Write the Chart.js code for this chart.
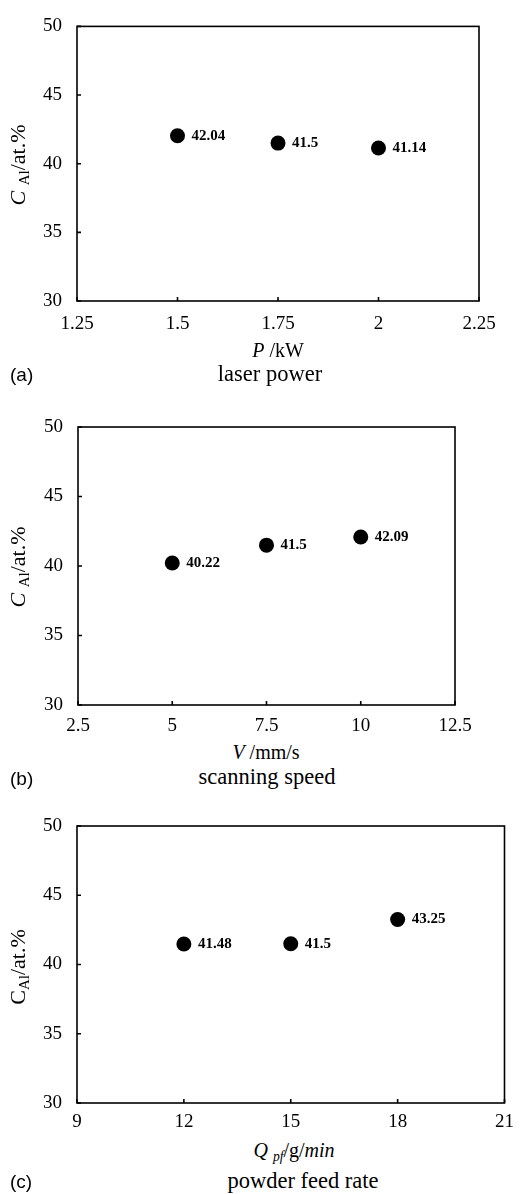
<!DOCTYPE html>
<html><head><meta charset="utf-8">
<script src="https://cdn.jsdelivr.net/npm/chart.js@4.4.1/dist/chart.umd.min.js"></script>
<style>
html,body{margin:0;padding:0;background:#fff;width:522px;height:1194px;overflow:hidden;}
.panel{position:absolute;left:0;width:522px;height:345px;}
canvas{position:absolute;left:0;top:0;}
.t{position:absolute;transform:translate(-50%,-50%);white-space:nowrap;color:#000;font-family:"Liberation Serif","Times New Roman",serif;line-height:1;}
.yt{transform:translate(-50%,-50%) rotate(-90deg);font-size:22px;}
.xt{font-size:20px;}
.cap{font-size:22.5px;}
.lab{position:absolute;left:10px;font-family:"Liberation Sans",Arial,sans-serif;font-size:19px;transform:translateY(-50%);line-height:1;color:#000;}
sub{font-size:68%;vertical-align:-0.3em;line-height:0;}
</style></head>
<body>
<div class="panel" style="top:0"><canvas id="ca" width="522" height="345"></canvas></div>
<div class="panel" style="top:390px"><canvas id="cb" width="522" height="345"></canvas></div>
<div class="panel" style="top:790px"><canvas id="cc" width="522" height="345"></canvas></div>

<div class="t yt" style="left:18px;top:165px"><i>C</i> <sub>Al</sub>/at.%</div>
<div class="t xt" style="left:278px;top:350px"><i>P</i> /kW</div>
<div class="t cap" style="left:270px;top:374px">laser power</div>
<div class="lab" style="top:374px">(a)</div>

<div class="t yt" style="left:18px;top:567px"><i>C</i> <sub>Al</sub>/at.%</div>
<div class="t xt" style="left:266px;top:752px"><i>V</i> /mm/s</div>
<div class="t cap" style="left:267px;top:777px">scanning speed</div>
<div class="lab" style="top:778px">(b)</div>

<div class="t yt" style="left:18px;top:967px">C<sub>Al</sub>/at.%</div>
<div class="t xt" style="left:294px;top:1150px"><i>Q</i> <sub><i>pf</i></sub>/g/<i>min</i></div>
<div class="t cap" style="left:303px;top:1181px">powder feed rate</div>
<div class="lab" style="top:1181px">(c)</div>

<script>
// ---- data ----
const aX = [1.5, 1.75, 2];
const aY = [42.04, 41.5, 41.14];
const aLabels = ['42.04', '41.5', '41.14'];
const aXTicks = [1.25, 1.5, 1.75, 2, 2.25];
const aXTickLabels = ['1.25', '1.5', '1.75', '2', '2.25'];

const bX = [5, 7.5, 10];
const bY = [40.22, 41.5, 42.09];
const bLabels = ['40.22', '41.5', '42.09'];
const bXTicks = [2.5, 5, 7.5, 10, 12.5];
const bXTickLabels = ['2.5', '5', '7.5', '10', '12.5'];

const cX = [12, 15, 18];
const cY = [41.48, 41.5, 43.25];
const cLabels = ['41.48', '41.5', '43.25'];
const cXTicks = [9, 12, 15, 18, 21];
const cXTickLabels = ['9', '12', '15', '18', '21'];

const yTicks = [30, 35, 40, 45, 50];
const yTickLabels = ['30', '35', '40', '45', '50'];

Chart.defaults.font.family = "'Liberation Serif', 'Times New Roman', serif";
Chart.defaults.color = '#000';
const TICK_FONT = {family: "'Liberation Serif', 'Times New Roman', serif", size: 19};

function makeChart(id, xs, ys, labels, xTicks, xTickLabels, box, xPad) {
  const H = 345;
  const framePlugin = {
    id: 'frame',
    afterDraw(chart) {
      const {ctx, chartArea: a, scales: {x, y}} = chart;
      ctx.save();
      ctx.strokeStyle = '#000';
      ctx.lineWidth = 1.6;
      ctx.strokeRect(a.left, a.top, a.right - a.left, a.bottom - a.top);
      ctx.beginPath();
      x.ticks.forEach(t => { const p = x.getPixelForValue(t.value); ctx.moveTo(p, a.bottom); ctx.lineTo(p, a.bottom - 4); });
      y.ticks.forEach(t => { const p = y.getPixelForValue(t.value); ctx.moveTo(a.left, p); ctx.lineTo(a.left + 4, p); });
      ctx.stroke();
      const meta = chart.getDatasetMeta(0);
      ctx.font = "bold 15px 'Liberation Serif', 'Times New Roman', serif";
      ctx.fillStyle = '#000';
      ctx.textAlign = 'left';
      ctx.textBaseline = 'middle';
      meta.data.forEach((el, i) => ctx.fillText(labels[i], el.x + 14, el.y));
      ctx.restore();
    }
  };
  return new Chart(document.getElementById(id), {
    type: 'scatter',
    data: {datasets: [{
      data: xs.map((x, i) => ({x: x, y: ys[i]})),
      pointRadius: 7.5, pointHoverRadius: 7.5, borderWidth: 0,
      backgroundColor: '#000', borderColor: '#000'
    }]},
    options: {
      responsive: false, animation: false, events: [],
      layout: {padding: {left: 0, right: 522 - box.right, top: box.top, bottom: 0}},
      plugins: {legend: {display: false}, tooltip: {enabled: false}},
      scales: {
        x: {
          type: 'linear', min: xTicks[0], max: xTicks[xTicks.length - 1],
          afterBuildTicks: s => { s.ticks = xTicks.map(v => ({value: v})); },
          afterFit: s => { s.height = H - box.bottom; },
          grid: {display: false, drawTicks: false}, border: {display: false},
          ticks: {padding: xPad, font: TICK_FONT, color: '#000', autoSkip: false, maxRotation: 0,
                  callback: (v, i) => xTickLabels[i]}
        },
        y: {
          type: 'linear', min: yTicks[0], max: yTicks[yTicks.length - 1],
          afterBuildTicks: s => { s.ticks = yTicks.map(v => ({value: v})); },
          afterFit: s => { s.width = box.left; },
          grid: {display: false, drawTicks: false}, border: {display: false},
          ticks: {padding: 15, font: TICK_FONT, color: '#000', autoSkip: false,
                  callback: (v, i) => yTickLabels[i]}
        }
      }
    },
    plugins: [framePlugin]
  });
}

makeChart('ca', aX, aY, aLabels, aXTicks, aXTickLabels, {left: 77, right: 479, top: 18, bottom: 301}, 12);
makeChart('cb', bX, bY, bLabels, bXTicks, bXTickLabels, {left: 78, right: 455, top: 37, bottom: 315}, 10);
makeChart('cc', cX, cY, cLabels, cXTicks, cXTickLabels, {left: 77, right: 512, top: 36, bottom: 313}, 8);
</script>
</body></html>
